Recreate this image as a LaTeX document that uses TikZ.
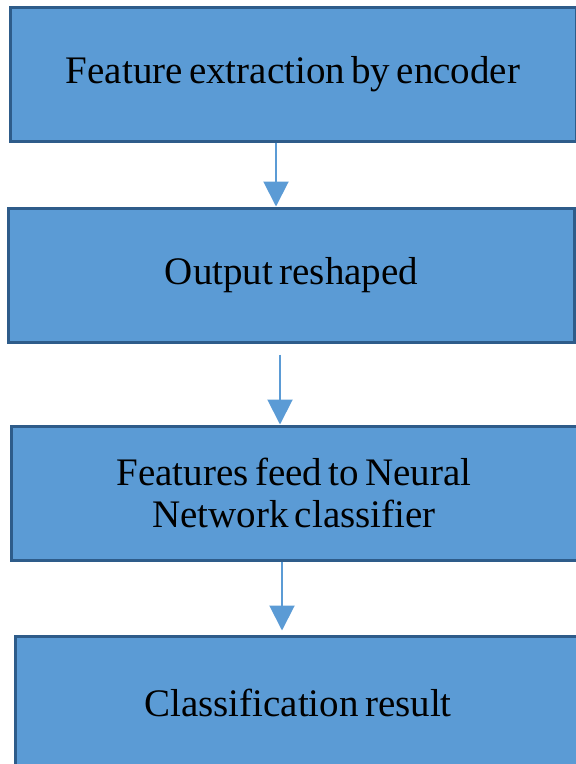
\documentclass[tikz,border=0pt]{standalone}
\usepackage{fontspec}
\setmainfont[WordSpace=0.65]{Liberation Serif}
\usetikzlibrary{arrows.meta}
\definecolor{boxfill}{HTML}{5B9BD5}
\definecolor{boxline}{HTML}{2E5C8A}
\tikzset{
  stepbox/.style={draw=boxline, fill=boxfill, line width=3pt, inner sep=0pt,
    minimum width=566pt, minimum height=134pt, align=center,
    font=\fontsize{39}{42}\selectfont},
  flow/.style={draw=boxfill, line width=2pt, -{Triangle[width=25pt,length=25pt]}}
}
\begin{document}
\begin{tikzpicture}[x=1pt,y=-1pt]
\useasboundingbox (0,0) rectangle (576,764);
\node[stepbox] (b1) at (293,74) {Feature extraction by encoder};
\node[stepbox] (b2) at (291.5,275) {Output reshaped};
\node[stepbox] (b3) at (294,493) {Features feed to Neural\\Network classifier};
\node[stepbox] (b4) at (298,703) {Classification result};

\path[flow] ([xshift=-17pt]b1.south) -- ([xshift=-15.5pt]b2.north);
\path[flow] ([xshift=-11.5pt,yshift=-11pt]b2.south) -- ([xshift=-14pt]b3.north);
\path[flow] ([xshift=-12pt]b3.south) -- ([xshift=-16pt,yshift=4pt]b4.north);
\end{tikzpicture}
\end{document}
